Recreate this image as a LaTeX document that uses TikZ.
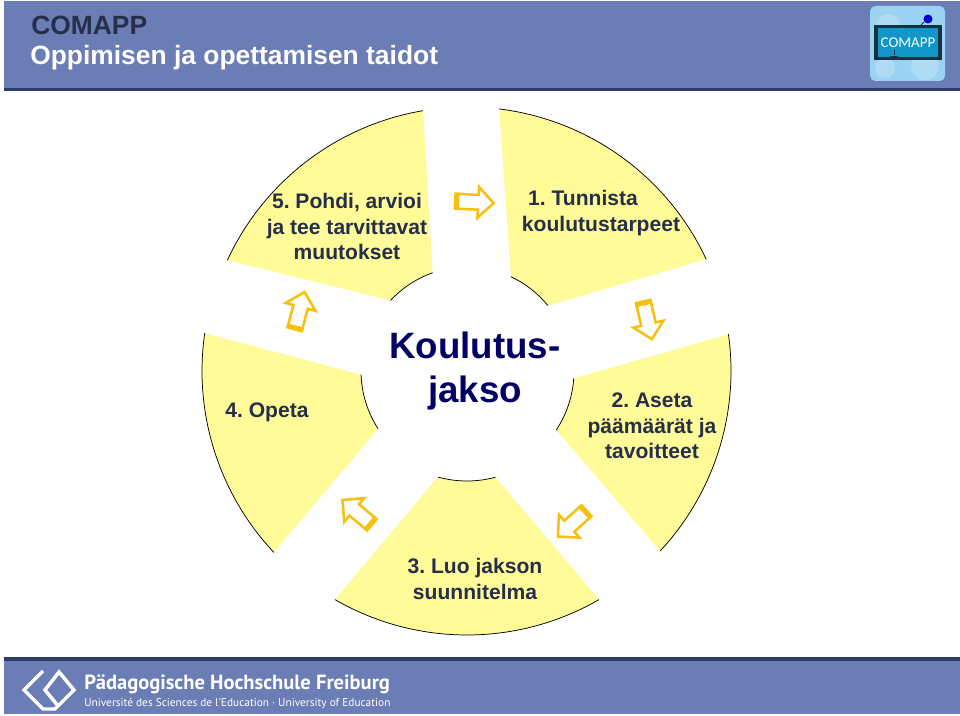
\documentclass[tikz,border=0pt]{standalone}
\usepackage{fontspec}
\setmainfont{Liberation Sans}
\newfontfamily\hsfont{PT Sans}
\newfontfamily\logofont{Carlito}
\usetikzlibrary{calc,shapes.arrows}
\definecolor{band}{HTML}{6A7DB5}
\definecolor{bandline}{HTML}{2C3D6B}
\definecolor{petalfill}{HTML}{FFFB99}
\definecolor{hint}{HTML}{F6C00C}
\definecolor{ink}{HTML}{262F4A}
\definecolor{hubtext}{HTML}{000066}
\definecolor{logosky}{HTML}{9BD4F2}
\definecolor{logoscreen}{HTML}{1196C9}
\definecolor{logoframe}{HTML}{12323F}
\frenchspacing

\begin{document}
\begin{tikzpicture}[
    x=0.75pt, y=0.75pt,
    petal/.style={fill=petalfill},
    rim/.style={draw=black, line width=0.55pt},
    lbl/.style={font=\bfseries\fontsize{15.8}{19.2}\selectfont, text=ink, align=center, inner sep=0pt},
    head/.style={font=\bfseries\fontsize{19.8}{22}\selectfont, anchor=base west, inner sep=0pt},
    hint/.style={single arrow, draw=hint, fill=white, line width=1.9pt, inner xsep=0pt, inner ysep=4.6pt,
                 minimum height=27pt, minimum width=21.5pt, single arrow head extend=6pt, single arrow head indent=0pt},
    hinttail/.style={draw=hint, line width=3.8pt},
  ]
  \useasboundingbox (0,0) rectangle (960,716);
  \coordinate (hub) at (467,345);

  % header and footer bands
  \fill[band] (4,628) rectangle (960,715);
  \fill[bandline] (4,625) rectangle (960,628);
  \fill[band] (4,2) rectangle (960,55);
  \fill[bandline] (4,55) rectangle (960,59);
  \node[head, text=ink] at (31,681) (title) {COMAPP};
  \node[head, text=white] at (30,651) (subtitle) {Oppimisen ja opettamisen taidot};

  % logo, top right
  \fill[logosky, rounded corners=4pt] (870,635) rectangle (945,710);
  \fill[white, opacity=0.2] (888,690) circle (12) (925,650) circle (14) (885,648) circle (10);
  \fill[logoframe] (874,656) rectangle (942,691);
  \fill[logoscreen] (878,659) rectangle (938,688);
  \fill[blue!80!black] (928,697) circle (4.5);
  \draw[logoframe, line width=0.6pt] (921,691) -- (924,694);
  \node[font=\logofont\fontsize{11.2}{12}\selectfont, text=white, inner sep=0pt] at (908,673.5) (logotext) {COMAPP};
  \draw[logoframe, line width=0.7pt] (894,661) -- (894,666) (890,660) -- (898,660);

  % the five petals
  \path[petal] ($(hub)+(83:264)$) arc[start angle=83, end angle=25, radius=264]
    -- ($(hub)+(39:104)$) arc[start angle=39, end angle=65, radius=104] -- cycle;
  \path[petal] ($(hub)+(8:264)$) arc[start angle=8, end angle=-43, radius=264]
    -- ($(hub)+(-33.5:107)$) arc[start angle=-33.5, end angle=-4, radius=107] -- cycle;
  \path[petal] ($(hub)+(-60:264)$) arc[start angle=-60, end angle=-120, radius=264]
    -- ($(hub)+(-105.4:110)$) arc[start angle=-105.4, end angle=-75, radius=110] -- cycle;
  \path[petal] ($(hub)+(223.2:265)$) arc[start angle=223.2, end angle=171.8, radius=265]
    -- ($(hub)+(182:106)$) arc[start angle=182, end angle=213, radius=106] -- cycle;
  \path[petal] ($(hub)+(155.2:264)$) arc[start angle=155.2, end angle=99.6, radius=264]
    -- ($(hub)+(109.3:104)$) arc[start angle=109.3, end angle=137.3, radius=104] -- cycle;

  \draw[rim] ($(hub)+(83:264)$) arc[start angle=83, end angle=25, radius=264];
  \draw[rim] ($(hub)+(39:104)$) arc[start angle=39, end angle=65, radius=104];
  \draw[rim] ($(hub)+(8:264)$) arc[start angle=8, end angle=-43, radius=264];
  \draw[rim] ($(hub)+(-33.5:107)$) arc[start angle=-33.5, end angle=-4, radius=107];
  \draw[rim] ($(hub)+(-60:264)$) arc[start angle=-60, end angle=-120, radius=264];
  \draw[rim] ($(hub)+(-105.4:110)$) arc[start angle=-105.4, end angle=-75, radius=110];
  \draw[rim] ($(hub)+(223.2:265)$) arc[start angle=223.2, end angle=171.8, radius=265];
  \draw[rim] ($(hub)+(182:106)$) arc[start angle=182, end angle=213, radius=106];
  \draw[rim] ($(hub)+(155.2:264)$) arc[start angle=155.2, end angle=99.6, radius=264];
  \draw[rim] ($(hub)+(109.3:104)$) arc[start angle=109.3, end angle=137.3, radius=104];

  \node[lbl] at (601,503) (tunnista) {1. Tunnista\hspace*{27pt}\\koulutustarpeet};
  \node[lbl] at (652,290) (aseta) {2. Aseta\\päämäärät ja\\tavoitteet};
  \node[lbl] at (475,137) (luo) {3. Luo jakson\\suunnitelma};
  \node[lbl] at (267,303.5) (opeta) {4. Opeta};
  \node[lbl] at (347,489.5) (pohdi) {5. Pohdi, arvioi\\ja tee tarvittavat\\muutokset};
  \node[font=\bfseries\fontsize{27.5}{33}\selectfont, text=hubtext, align=center, inner sep=0pt] at (475,345) (jakso) {Koulutus-\\jakso};

  % hint arrows between the petals
  \node[hint, rotate=-3] at (472,514) (arrowa) {};
  \node[hint, rotate=-77] at (647,398) (arrowb) {};
  \node[hint, rotate=222] at (574,194) (arrowc) {};
  \node[hint, rotate=140] at (359,202) (arrowd) {};
  \node[hint, rotate=75] at (299,403) (arrowe) {};
  \draw[hinttail] (arrowa.before tail) -- (arrowa.after tail);
  \draw[hinttail] (arrowb.before tail) -- (arrowb.after tail);
  \draw[hinttail] (arrowc.before tail) -- (arrowc.after tail);
  \draw[hinttail] (arrowd.before tail) -- (arrowd.after tail);
  \draw[hinttail] (arrowe.before tail) -- (arrowe.after tail);

  % footer mark and wordmark
  \draw[white, line width=2.6pt, line join=miter] (43,45) -- (24,26) -- (43,7) -- (55,7) -- (74,26) -- (59,44) -- (45,26) -- (59,9);
  \node[font=\hsfont\fontsize{15.4}{18}\selectfont\bfseries, text=white, anchor=base west, inner sep=0pt] at (84,26) (pfreiburg) {Pädagogische Hochschule Freiburg};
  \node[font=\hsfont\fontsize{8.5}{11}\selectfont, text=white, anchor=base west, inner sep=0pt] at (84,9) (univ) {Université des Sciences de l'Education · University of Education};
\end{tikzpicture}
\end{document}
